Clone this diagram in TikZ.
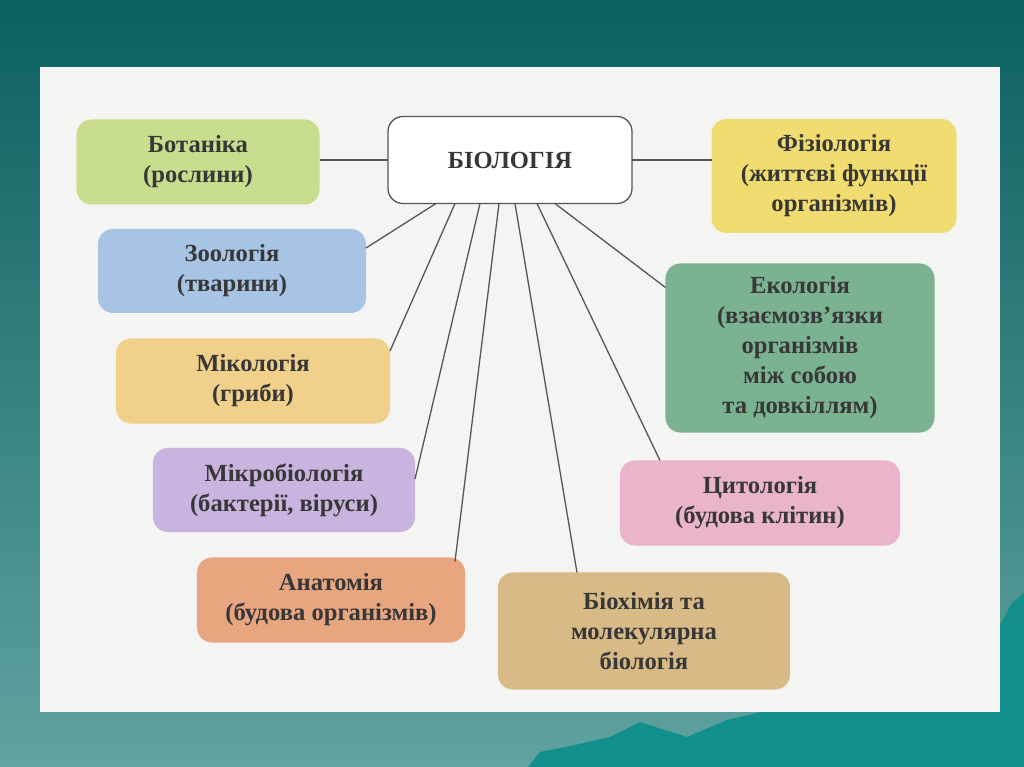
\documentclass[tikz,border=0pt]{standalone}
\usepackage{fontspec}
\setmainfont{Liberation Serif}
\usetikzlibrary{calc}

\definecolor{bgtop}{RGB}{12,96,96}
\definecolor{bgbottom}{RGB}{96,163,161}
\definecolor{mountain}{RGB}{18,142,140}
\definecolor{panel}{RGB}{244,244,242}
\definecolor{textgray}{RGB}{55,55,55}
\definecolor{linegray}{RGB}{85,85,85}
\definecolor{botgreen}{RGB}{200,221,142}
\definecolor{fizyellow}{RGB}{240,220,112}
\definecolor{zooblue}{RGB}{168,196,228}
\definecolor{ecogreen}{RGB}{122,178,146}
\definecolor{mikoorange}{RGB}{240,208,138}
\definecolor{mikrolilac}{RGB}{200,180,222}
\definecolor{cytpink}{RGB}{234,180,204}
\definecolor{anatsalmon}{RGB}{232,166,128}
\definecolor{biochtan}{RGB}{216,186,134}

\tikzset{
  box/.style={rounded corners=0.45cm, inner sep=0pt, outer sep=0pt, align=center,
    text=textgray, font=\fontsize{21}{25.6}\selectfont\bfseries},
  link/.style={draw=linegray, line width=1.1pt}
}

\begin{document}
\begin{tikzpicture}[x=0.03cm, y=-0.03cm]
    % Slide background and paper
    \shade[top color=bgtop, bottom color=bgbottom] (0,0) rectangle (1024,767);
    \fill[mountain] (528,767) -- (540,752) -- (575,745) -- (610,737) -- (640,722)
        -- (687,737) -- (727,720) -- (761,712) -- (1000,712) -- (1000,625)
        -- (1012,603) -- (1024,593) -- (1024,767) -- cycle;
    \fill[panel] (40,67) rectangle (1000,712);

    % Centre
    \node[box, draw=linegray, line width=1.1pt, fill=white, minimum width=7.32cm, minimum height=2.61cm] (bio) at (510,160) {БІОЛОГІЯ};

    % Branches
    \node[box, fill=botgreen, minimum width=7.29cm, minimum height=2.55cm] (bot) at (198,162) {Ботаніка\\(рослини)};
    \node[box, fill=fizyellow, minimum width=7.35cm, minimum height=3.42cm] (fiz) at (834,176) {Фізіологія\\(життєві функції\\організмів)};
    \node[box, fill=zooblue, minimum width=8.04cm, minimum height=2.52cm] (zoo) at (232,271) {Зоологія\\(тварини)};
    \node[box, fill=ecogreen, minimum width=8.07cm, minimum height=5.07cm] (eco) at (800,348) {Екологія\\(взаємозв’язки\\організмів\\між собою\\та довкіллям)};
    \node[box, fill=mikoorange, minimum width=8.22cm, minimum height=2.55cm] (miko) at (253,381) {Мікологія\\(гриби)};
    \node[box, fill=mikrolilac, minimum width=7.86cm, minimum height=2.52cm] (mikro) at (284,490) {Мікробіологія\\(бактерії, віруси)};
    \node[box, fill=cytpink, minimum width=8.4cm, minimum height=2.55cm] (cyt) at (760,503) {Цитологія\\(будова клітин)};
    \node[box, fill=anatsalmon, minimum width=8.04cm, minimum height=2.55cm] (anat) at (331,600) {Анатомія\\(будова організмів)};
    \node[box, fill=biochtan, minimum width=8.76cm, minimum height=3.51cm] (bioch) at (644,631) {Біохімія та\\молекулярна\\біологія};

    % Connectors
    \draw[link] (bot.east |- bio.west) -- (bio.west);
    \draw[link] (bio.east) -- (bio.east -| fiz.west);
    \draw[link] ($(bio.south)+(-74,0)$) -- ($(zoo.east)+(0,-23)$);
    \draw[link] ($(bio.south)+(-55,0)$) -- ($(miko.east)+(0,-30)$);
    \draw[link] ($(bio.south)+(-30,0)$) -- ($(mikro.east)+(0,-11)$);
    \draw[link] ($(bio.south)+(-11,0)$) -- ($(anat.north east)+(-10,4)$);
    \draw[link] ($(bio.south)+(5,0)$) -- ($(bioch.north)+(-67,0)$);
    \draw[link] ($(bio.south)+(27,0)$) -- ($(cyt.north)+(-100,0)$);
    \draw[link] ($(bio.south)+(45,0)$) -- ($(eco.north west)+(0,24)$);
\end{tikzpicture}
\end{document}
